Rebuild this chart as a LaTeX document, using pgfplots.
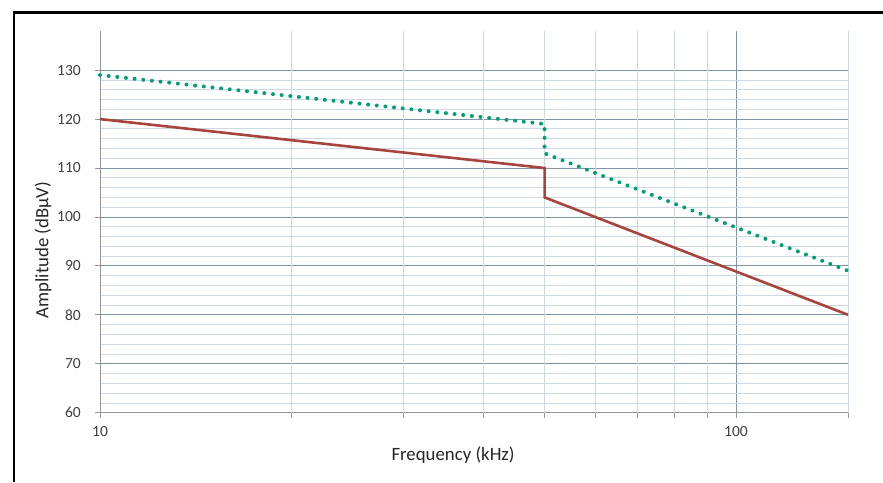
\documentclass[border=0pt]{standalone}
\usepackage{pgfplots}
\pgfplotsset{compat=1.18}
\usepackage{fontspec}
\setmainfont{Carlito}

\definecolor{majgrid}{RGB}{125,150,165}
\definecolor{mingrid}{RGB}{205,218,228}
\definecolor{limred}{RGB}{168,68,62}
\definecolor{limgreen}{RGB}{0,160,112}
\definecolor{axgray}{RGB}{150,150,150}
\definecolor{ticktext}{RGB}{64,64,64}

\begin{document}
\begin{tikzpicture}
\useasboundingbox (0,0) rectangle (883pt,482pt);
\draw[line width=2.5pt] (14pt,0) -- (14pt,469.7pt) -- (883pt,469.7pt);
\begin{axis}[
  at={(100pt,69.3pt)}, anchor=south west,
  scale only axis, width=748pt, height=381.7pt,
  xmode=log, xmin=10, xmax=150, ymin=60, ymax=138,
  axis lines*=left,
  axis line style={axgray, line width=0.8pt},
  xtick={10,100}, xticklabels={10,100},
  extra x ticks={20,30,40,50,60,70,80,90,150},
  extra x tick labels={},
  extra x tick style={major grid style={mingrid, line width=0.8pt}},
  ytick={60,70,...,130},
  minor y tick num=4,
  ymajorgrids, yminorgrids, xmajorgrids,
  major grid style={majgrid, line width=0.8pt},
  minor grid style={mingrid, line width=0.8pt},
  tick align=outside, major tick length=5pt, minor tick length=0pt,
  tick style={axgray, line width=0.8pt},
  /pgf/number format/assume math mode=true,
  ticklabel style={font=\fontsize{15.5}{18}\selectfont, text=ticktext},
  xticklabel style={anchor=north, inner sep=0pt, yshift=-9pt},
  yticklabel style={anchor=east, inner sep=0pt, xshift=-14pt},
  xlabel={Frequency (kHz)},
  ylabel={Amplitude (dBµV)},
  label style={font=\fontsize{18.8}{22}\selectfont, text=black!85},
  xlabel style={at={(axis description cs:0.472,-0.1265)}, anchor=base},
  ylabel style={at={(axis description cs:-0.0762,0.426)}, anchor=center},
  clip=false,
]
\addplot[limred, line width=2.6pt] coordinates {(10,120) (50,110) (50,104) (150,80)};
\addplot[limgreen, line width=4pt, line cap=round, dash pattern=on 0pt off 8.7pt]
  coordinates {(10,129) (50,119) (50,113) (150,89)};
\end{axis}
\end{tikzpicture}
\end{document}
